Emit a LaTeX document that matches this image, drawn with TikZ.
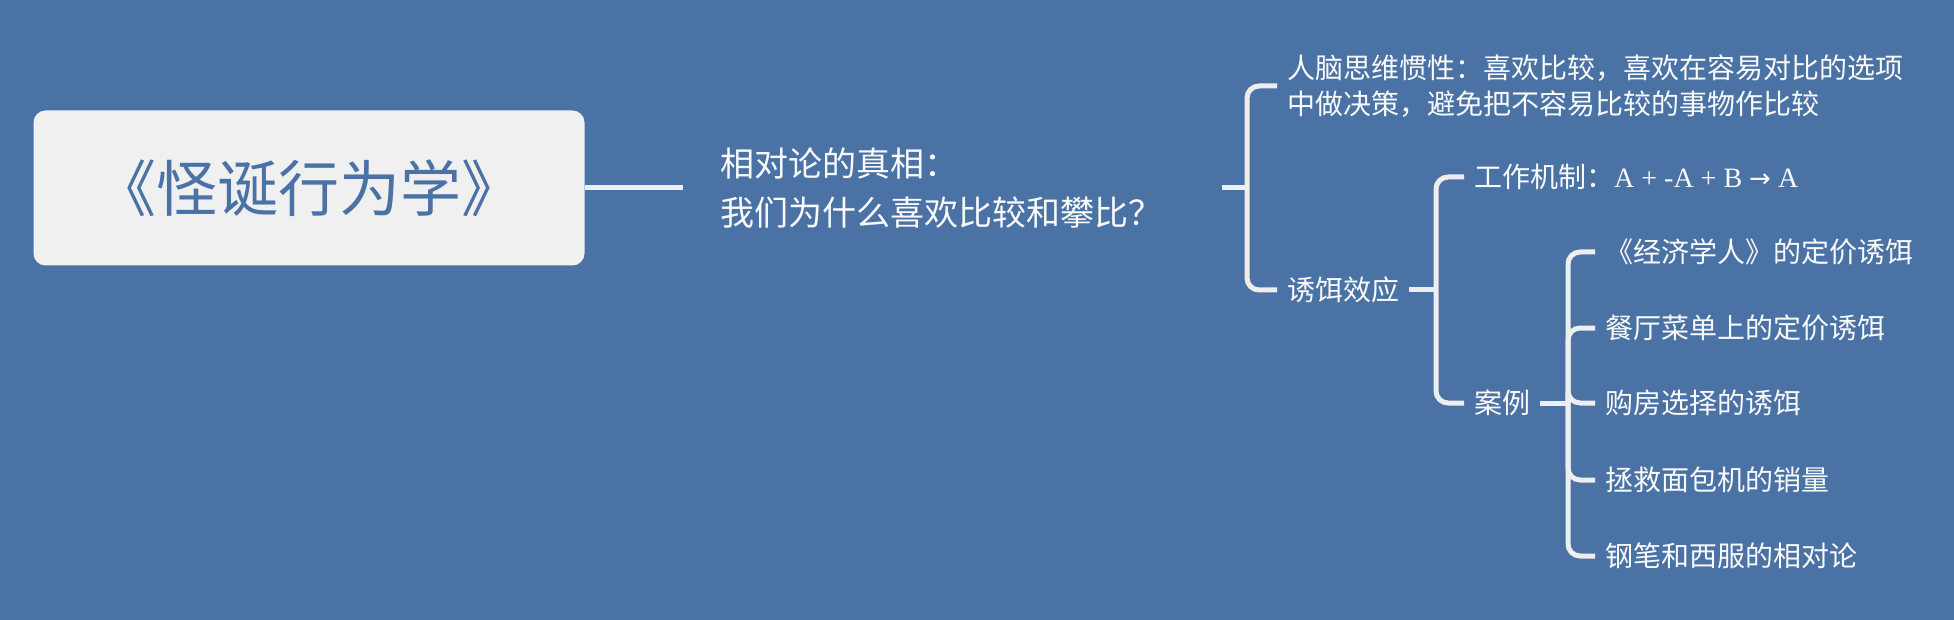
\documentclass[tikz,border=0pt]{standalone}
\usepackage{fontspec}
\setmainfont{Noto Sans CJK SC}
\newfontfamily\lser{Liberation Serif}
\newfontfamily\arrowfont{DejaVu Sans}
\definecolor{bg}{RGB}{74,114,165}
\definecolor{rootfill}{RGB}{240,240,240}
\definecolor{linec}{RGB}{238,238,238}
\definecolor{txt}{RGB}{250,250,250}
\begin{document}
\begin{tikzpicture}[x=1pt,y=-1pt,
  conn/.style={draw=linec, line width=5pt, rounded corners=12pt},
  rootbox/.style={fill=rootfill, rounded corners=12pt, text=bg, font=\fontsize{61}{64}\selectfont, minimum width=551pt, minimum height=155pt, inner sep=0pt},
  topicnode/.style={anchor=west, text=txt, font=\fontsize{34}{49}\selectfont, align=left, text width=465pt, inner xsep=37pt, inner ysep=0pt},
  leaf/.style={anchor=west, text=txt, inner xsep=10pt, inner ysep=0pt, font=\fontsize{28}{36}\selectfont, align=left},
]
\fill[bg] (0,0) rectangle (1954,620);
\useasboundingbox (0,0) rectangle (1954,620);

\node[rootbox] (root) at (309,188) {《怪诞行为学》};
\node[topicnode] (topic) at (683,188) {相对论的真相：\\我们为什么喜欢比较和攀比？};

\node[leaf] (c1) at (1277,86) {人脑思维惯性：喜欢比较，喜欢在容易对比的选项\\中做决策，避免把不容易比较的事物作比较};
\node[leaf] (c2) at (1277,290) {诱饵效应};

\node[leaf] (mech) at (1464,177) {工作机制：{\lser A + -A + B {\arrowfont\fontsize{26}{30}\selectfont →} A}};
\node[leaf] (case) at (1464,403) {案例};

\node[leaf] (k1) at (1595,252) {《经济学人》的定价诱饵};
\node[leaf] (k2) at (1595,328) {餐厅菜单上的定价诱饵};
\node[leaf] (k3) at (1595,403) {购房选择的诱饵};
\node[leaf] (k4) at (1595,480) {拯救面包机的销量};
\node[leaf] (k5) at (1595,556) {钢笔和西服的相对论};

\coordinate (j1) at (1247,188);
\coordinate (j2) at (1436,290);
\coordinate (j3) at (1568,403);

\draw[conn] (root.east) -- (topic.west);
\draw[conn] (topic.east) -- (j1);
\draw[conn] (j1) |- (c1.west);
\draw[conn] (j1) |- (c2.west);

\draw[conn] (c2.east) -- (j2);
\draw[conn] (j2) |- (mech.west);
\draw[conn] (j2) |- (case.west);

\draw[conn] (case.east) -- (j3);
\draw[conn] (j3) |- (k1.west);
\draw[conn] (j3) |- (k2.west);
\draw[conn] (j3) |- (k3.west);
\draw[conn] (j3) |- (k4.west);
\draw[conn] (j3) |- (k5.west);
\end{tikzpicture}
\end{document}
